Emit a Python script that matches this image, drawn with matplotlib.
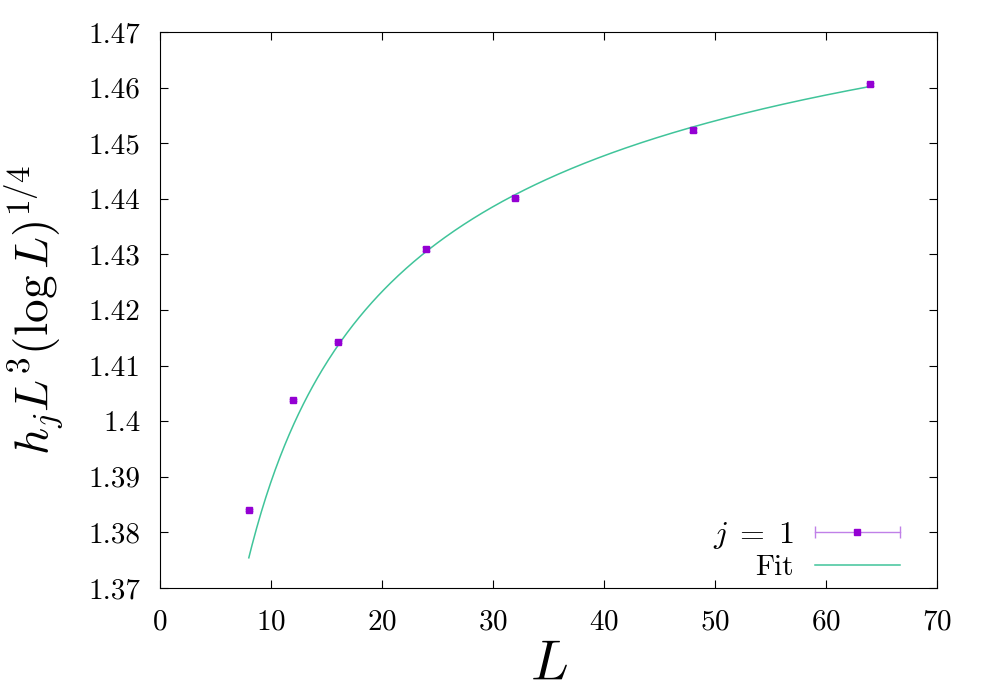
import numpy as np
import matplotlib
matplotlib.use('Agg')
import matplotlib.pyplot as plt
from matplotlib.lines import Line2D
from matplotlib.legend_handler import HandlerLine2D

plt.rcParams['font.family'] = 'serif'
plt.rcParams['font.serif'] = ['cmr10']
plt.rcParams['mathtext.fontset'] = 'cm'
plt.rcParams['axes.formatter.use_mathtext'] = True

# data
L = [8, 12, 16, 24, 32, 48, 64]
h = [1.3840, 1.4038, 1.4142, 1.4310, 1.4401, 1.4524, 1.4606]
err = [0.0002, 0.0002, 0.0002, 0.0004, 0.0002, 0.0004, 0.0003]

# fit a + b * L^(-c)
fit_a, fit_b, fit_c = 1.50899, -0.3657, 0.4844
fit_range = (8, 64)

purple = '#9400d3'
bar_col = '#c080e8'
fit_col = '#40c49a'

fig = plt.figure(figsize=(9.97, 6.93), dpi=100)
ax = fig.add_axes([0.1605, 0.1515, 0.7793, 0.8023])

ax.errorbar(L, h, yerr=err, fmt='s', color=purple, ms=5,
            ecolor=bar_col, elinewidth=1, capsize=3)
xs = np.linspace(fit_range[0], fit_range[1], 400)
fit_line, = ax.plot(xs, fit_a + fit_b * xs ** (-fit_c), color=fit_col, lw=1.1)

ax.set_xlim(0, 70)
ax.set_ylim(1.37, 1.47)
ax.set_xticks(np.arange(0, 71, 10))
ax.set_yticks(np.arange(1.37, 1.4701, 0.01))
ax.set_yticklabels(['1.37', '1.38', '1.39', '1.4', '1.41', '1.42', '1.43',
                    '1.44', '1.45', '1.46', '1.47'])
ax.tick_params(direction='in', top=True, right=True, labelsize=21, length=6)
ax.tick_params(axis='x', pad=15)
ax.tick_params(axis='y', pad=14)

ax.set_xlabel(r'$L$', fontsize=40, labelpad=4)
ax.set_ylabel(r'$h_j L^3 (\log L)^{1/4}$', fontsize=34, labelpad=16)

# gnuplot-like legend sample: horizontal bar with caps, square in the middle
bar = Line2D([], [], color=bar_col, lw=1, marker='|', ms=8)
sq = Line2D([], [], color=purple, marker='s', ms=5, ls='none')
leg = ax.legend([(bar, sq), fit_line], [r'$j\;=\;1$', 'Fit'],
                handler_map={bar: HandlerLine2D(numpoints=2, marker_pad=0)},
                loc='lower right', bbox_to_anchor=(0.952, 0.012),
                frameon=False, markerfirst=False, fontsize=21,
                handlelength=2.9, borderpad=0, borderaxespad=0, labelspacing=0.15,
                handletextpad=0.75)
leg.get_texts()[0].set_fontsize(23)

fig.savefig('out.png', dpi=100)
